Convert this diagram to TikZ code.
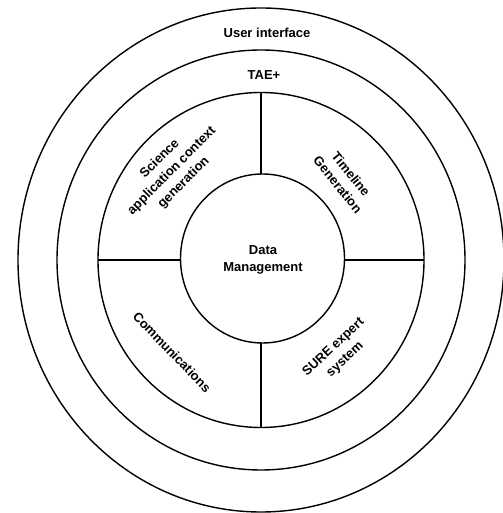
\documentclass[tikz,border=0pt]{standalone}
\usepackage{fontspec}
\setmainfont{Liberation Sans}

\begin{document}
\begin{tikzpicture}[
		ring/.style={line width=0.8pt},
		lbl/.style={font=\fontsize{7.4}{9.6}\selectfont\bfseries, align=center, inner sep=0pt}
	]
		\useasboundingbox (-5.22,-5.06) rectangle (4.82,5.2);
		
		% Anillos
		\draw[ring] (0,0) ellipse (4.86 and 5.04);
		\draw[ring] (0,0) ellipse (4.08 and 4.20);
		\draw[ring] (0,0) ellipse (3.26 and 3.35);
		\draw[ring] (0.03,0.03) ellipse (1.64 and 1.69);
		
		% Separadores
		\draw[ring] (90:1.72) -- (90:3.35);
		\draw[ring] (0:1.67) -- (0:3.26);
		\draw[ring] (270:1.66) -- (270:3.35);
		\draw[ring] (180:1.61) -- (180:3.26);
		
		% Textos
		\node[lbl] (ui) at (0.12, 4.54) {User interface};
		\node[lbl] (tae) at (0.06, 3.70) {TAE+};
		\node[lbl] (data) at (0.04, 0.0) {Data\\Management};
		\node[lbl, rotate=45] (science) at (135:2.52) {Science\\application context\\generation};
		\node[lbl, rotate=-51] (timeline) at (44:2.32) {Timeline\\Generation};
		\node[lbl, rotate=-46] (comms) at (226:2.56) {Communications};
		\node[lbl, rotate=43] (sure) at (-50:2.44) {SURE expert\\system};
	\end{tikzpicture}
\end{document}
